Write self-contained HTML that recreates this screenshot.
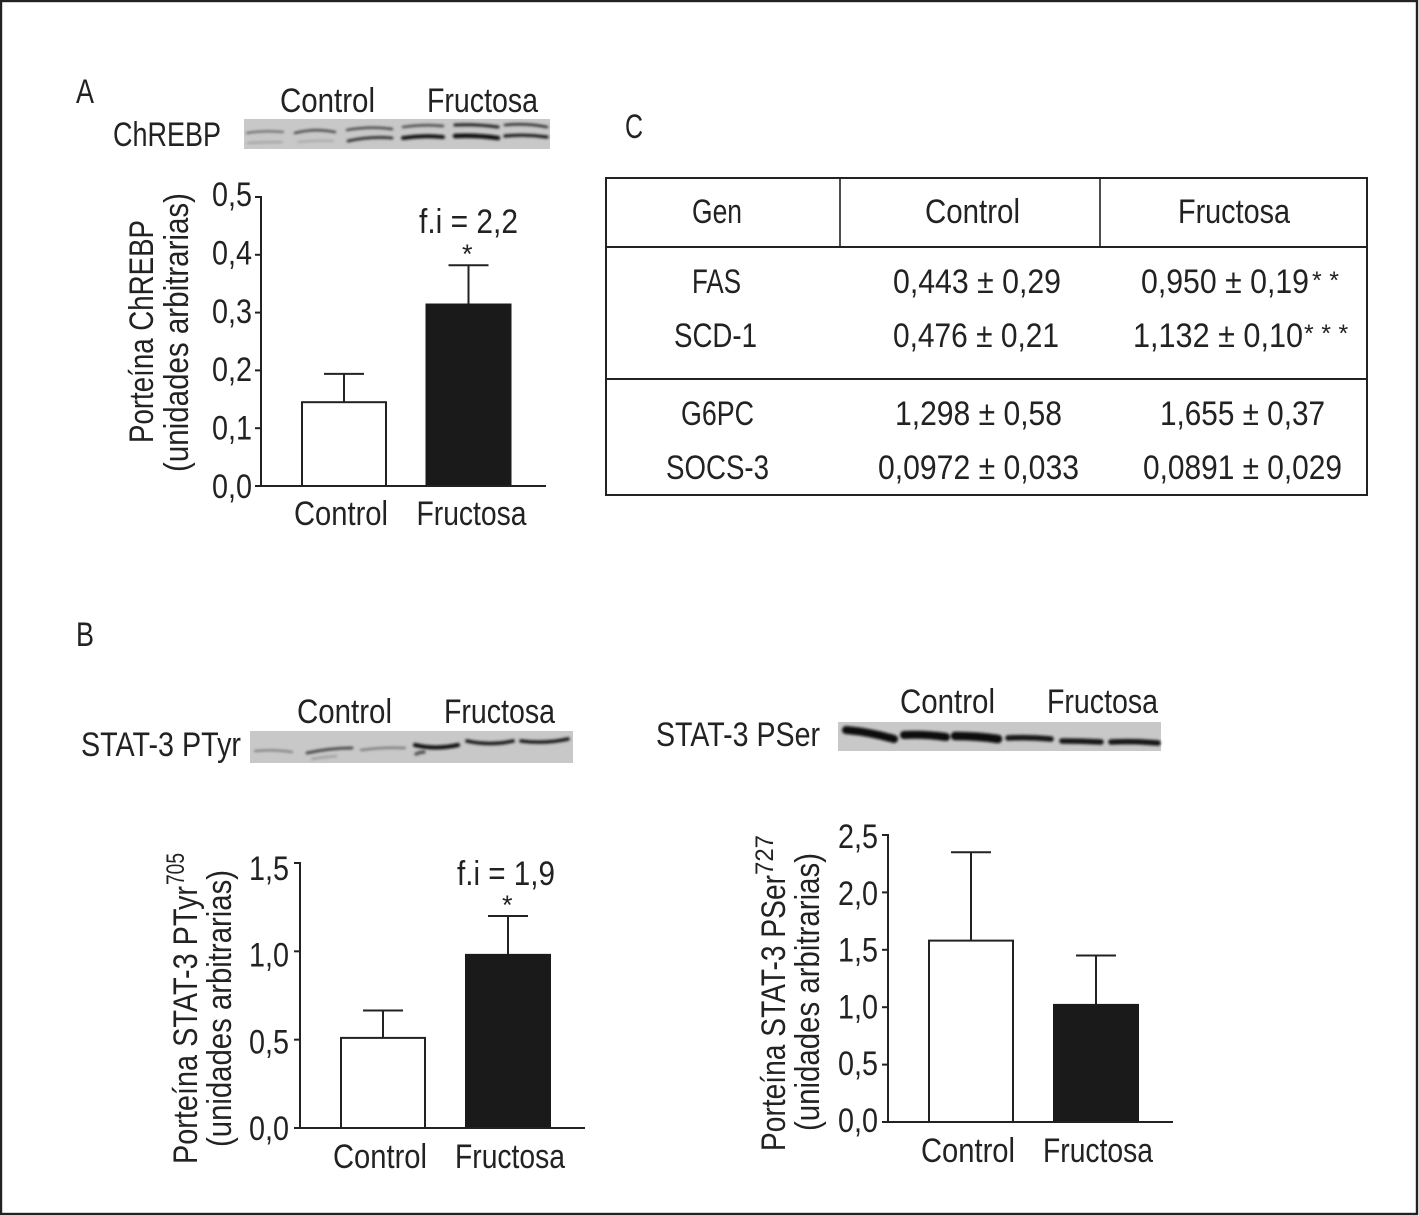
<!DOCTYPE html>
<html lang="es">
<head>
<meta charset="utf-8">
<title>ChREBP and STAT-3 figure</title>
<style>
html,body{margin:0;padding:0;background:#fff;width:1419px;height:1216px;overflow:hidden}
svg{display:block}
text{font-family:"Liberation Sans",sans-serif;font-size:34px;fill:#222}
</style>
</head>
<body>
<svg id="fig" width="1419" height="1216" viewBox="0 0 1419 1216" xmlns="http://www.w3.org/2000/svg">
<defs>
<filter id="blur1" x="-10%" y="-150%" width="120%" height="400%"><feGaussianBlur stdDeviation="1.2"/></filter>
</defs>
<rect x="1" y="1" width="1416" height="1213" fill="#fff" stroke="#222" stroke-width="2.4"/>

<text x="76" y="103" textLength="18" lengthAdjust="spacingAndGlyphs">A</text>
<text x="76" y="646" textLength="18" lengthAdjust="spacingAndGlyphs">B</text>
<text x="625" y="138" textLength="18" lengthAdjust="spacingAndGlyphs">C</text>

<!-- Panel A blot -->
<text x="280" y="112" textLength="95" lengthAdjust="spacingAndGlyphs">Control</text>
<text x="427" y="112" textLength="111" lengthAdjust="spacingAndGlyphs">Fructosa</text>
<text x="113" y="146" textLength="108" lengthAdjust="spacingAndGlyphs">ChREBP</text>
<g>
<rect x="244" y="119" width="306" height="30" fill="#c8c8c8"/>
<g filter="url(#blur1)" fill="none" stroke-linecap="round">
<path d="M247 133Q265 130 283 132" stroke="#666" stroke-width="2"/>
<path d="M248 143Q265 142 282 142" stroke="#a0a0a0" stroke-width="2"/>
<path d="M295 133Q315 128 335 132" stroke="#444" stroke-width="2.4"/>
<path d="M298 142Q315 140 333 141" stroke="#a8a8a8" stroke-width="2"/>
<path d="M347 130Q370 126 392 129" stroke="#444" stroke-width="2.4"/>
<path d="M348 141Q370 136 392 138" stroke="#333" stroke-width="2.8"/>
<path d="M403 127Q423 124 443 126" stroke="#444" stroke-width="2.4"/>
<path d="M403 138Q423 135 443 137" stroke="#111" stroke-width="3.8"/>
<path d="M455 125Q476 124 498 127" stroke="#222" stroke-width="3"/>
<path d="M455 136Q476 135 498 138" stroke="#0a0a0a" stroke-width="4.4"/>
<path d="M505 125Q526 123 547 127" stroke="#333" stroke-width="2.6"/>
<path d="M505 136Q526 134 547 137" stroke="#1a1a1a" stroke-width="3.2"/>
</g>
</g>

<text transform="translate(153,443) rotate(-90)" x="0" y="0" textLength="223" lengthAdjust="spacingAndGlyphs">Porteína ChREBP</text>
<text transform="translate(188,472) rotate(-90)" x="0" y="0" textLength="279" lengthAdjust="spacingAndGlyphs">(unidades arbitrarias)</text>
<text x="419" y="233" textLength="99" lengthAdjust="spacingAndGlyphs">f.i = 2,2</text>
<text x="462" y="263" style="font-size:27px">*</text>

<!-- Panel C table -->
<g>
<rect x="606" y="178" width="761" height="317" fill="none" stroke="#222" stroke-width="2"/>
<line x1="606" x2="1367" y1="247" y2="247" stroke="#222" stroke-width="2"/>
<line x1="606" x2="1367" y1="379" y2="379" stroke="#222" stroke-width="2"/>
<line x1="840" x2="840" y1="178" y2="247" stroke="#222" stroke-width="1.6"/>
<line x1="1100" x2="1100" y1="178" y2="247" stroke="#222" stroke-width="1.6"/>
<text x="692" y="223" textLength="50" lengthAdjust="spacingAndGlyphs">Gen</text>
<text x="925" y="223" textLength="95" lengthAdjust="spacingAndGlyphs">Control</text>
<text x="1178" y="223" textLength="112" lengthAdjust="spacingAndGlyphs">Fructosa</text>

<text x="692" y="293" textLength="49" lengthAdjust="spacingAndGlyphs">FAS</text>
<text x="893" y="293" textLength="168" lengthAdjust="spacingAndGlyphs">0,443 ± 0,29</text>
<text x="1141" y="293" textLength="168" lengthAdjust="spacingAndGlyphs">0,950 ± 0,19</text>
<text x="1312" y="289" style="font-size:25px;letter-spacing:7.5px">**</text>

<text x="674" y="347" textLength="83" lengthAdjust="spacingAndGlyphs">SCD-1</text>
<text x="893" y="347" textLength="166" lengthAdjust="spacingAndGlyphs">0,476 ± 0,21</text>
<text x="1133" y="347" textLength="170" lengthAdjust="spacingAndGlyphs">1,132 ± 0,10</text>
<text x="1304" y="342" style="font-size:25px;letter-spacing:7.5px">***</text>

<text x="681" y="425" textLength="73" lengthAdjust="spacingAndGlyphs">G6PC</text>
<text x="895" y="425" textLength="167" lengthAdjust="spacingAndGlyphs">1,298 ± 0,58</text>
<text x="1160" y="425" textLength="165" lengthAdjust="spacingAndGlyphs">1,655 ± 0,37</text>

<text x="666" y="479" textLength="103" lengthAdjust="spacingAndGlyphs">SOCS-3</text>
<text x="878" y="479" textLength="201" lengthAdjust="spacingAndGlyphs">0,0972 ± 0,033</text>
<text x="1143" y="479" textLength="199" lengthAdjust="spacingAndGlyphs">0,0891 ± 0,029</text>
</g>

<!-- Panel B left blot -->
<text x="297" y="723" textLength="95" lengthAdjust="spacingAndGlyphs">Control</text>
<text x="444" y="723" textLength="111" lengthAdjust="spacingAndGlyphs">Fructosa</text>
<text x="81" y="756" textLength="160" lengthAdjust="spacingAndGlyphs">STAT-3 PTyr</text>
<g>
<rect x="250" y="731" width="323" height="32" fill="#c8c8c8"/>
<g filter="url(#blur1)" fill="none" stroke-linecap="round">
<path d="M255 751Q273 749 292 752" stroke="#7a7a7a" stroke-width="2"/>
<path d="M307 753Q330 748 352 748" stroke="#444" stroke-width="2.8"/>
<path d="M312 759Q325 757 336 756" stroke="#a0a0a0" stroke-width="2.4"/>
<path d="M361 750Q383 747 405 748" stroke="#7a7a7a" stroke-width="2.2"/>
<path d="M415 745Q435 750 458 745" stroke="#111" stroke-width="4"/>
<path d="M416 754Q420 752 424 752" stroke="#555" stroke-width="3.4"/>
<path d="M467 741Q490 746 513 741" stroke="#1c1c1c" stroke-width="3.6"/>
<path d="M521 741Q545 744 568 739" stroke="#1c1c1c" stroke-width="3.6"/>
</g>
</g>

<!-- Panel B right blot -->
<text x="900" y="713" textLength="95" lengthAdjust="spacingAndGlyphs">Control</text>
<text x="1047" y="713" textLength="111" lengthAdjust="spacingAndGlyphs">Fructosa</text>
<text x="656" y="746" textLength="164" lengthAdjust="spacingAndGlyphs">STAT-3 PSer</text>
<g>
<rect x="838" y="722" width="323" height="29" fill="#c8c8c8"/>
<g filter="url(#blur1)" fill="none" stroke-linecap="round">
<path d="M846 730Q870 732 894 739" stroke="#0c0c0c" stroke-width="8"/>
<path d="M904 735Q925 734 946 737" stroke="#101010" stroke-width="8"/>
<path d="M955 736Q978 736 998 739" stroke="#101010" stroke-width="8.5"/>
<path d="M1008 738Q1030 737 1051 739" stroke="#141414" stroke-width="5.5"/>
<path d="M1062 741Q1082 741 1101 742" stroke="#141414" stroke-width="5.5"/>
<path d="M1111 742Q1135 741 1158 743" stroke="#141414" stroke-width="5.5"/>
</g>
</g>

<!-- Panel B titles -->
<text transform="translate(197,1164) rotate(-90)" x="0" y="0" textLength="278" lengthAdjust="spacingAndGlyphs">Porteína STAT-3 PTyr</text>
<text transform="translate(184,885) rotate(-90)" x="0" y="0" textLength="32" lengthAdjust="spacingAndGlyphs" style="font-size:25px">705</text>
<text transform="translate(231,1147) rotate(-90)" x="0" y="0" textLength="277" lengthAdjust="spacingAndGlyphs">(unidades arbitrarias)</text>
<text x="457" y="885" textLength="98" lengthAdjust="spacingAndGlyphs">f.i = 1,9</text>
<text x="502" y="914" style="font-size:27px">*</text>

<text transform="translate(785,1151) rotate(-90)" x="0" y="0" textLength="276" lengthAdjust="spacingAndGlyphs">Porteína STAT-3 PSer</text>
<text transform="translate(773,875) rotate(-90)" x="0" y="0" textLength="40" lengthAdjust="spacingAndGlyphs" style="font-size:25px">727</text>
<text transform="translate(819,1131) rotate(-90)" x="0" y="0" textLength="278" lengthAdjust="spacingAndGlyphs">(unidades arbitrarias)</text>

<g id="charts"></g>
</svg>

<script>
// Panel A: ChREBP
const chrebpCategories = ['Control', 'Fructosa'];
const chrebpMeans = [0.145, 0.314];
const chrebpErrorTops = [0.194, 0.382];
const chrebpTicks = ['0,0', '0,1', '0,2', '0,3', '0,4', '0,5'];
// Panel B left: STAT-3 PTyr
const ptyrCategories = ['Control', 'Fructosa'];
const ptyrMeans = [0.51, 0.98];
const ptyrErrorTops = [0.665, 1.2];
const ptyrTicks = ['0,0', '0,5', '1,0', '1,5'];
// Panel B right: STAT-3 PSer
const pserCategories = ['Control', 'Fructosa'];
const pserMeans = [1.58, 1.02];
const pserErrorTops = [2.35, 1.45];
const pserTicks = ['0,0', '0,5', '1,0', '1,5', '2,0', '2,5'];

const NS = 'http://www.w3.org/2000/svg';
const root = document.getElementById('charts');
const INK = '#222';

function addLine(parent, x1, y1, x2, y2, width) {
  const l = document.createElementNS(NS, 'line');
  l.setAttribute('x1', x1);
  l.setAttribute('y1', y1);
  l.setAttribute('x2', x2);
  l.setAttribute('y2', y2);
  l.setAttribute('stroke', INK);
  l.setAttribute('stroke-width', width);
  parent.appendChild(l);
  return l;
}

function addText(parent, str, x, y, len) {
  const t = document.createElementNS(NS, 'text');
  t.setAttribute('x', x);
  t.setAttribute('y', y);
  t.setAttribute('textLength', len);
  t.setAttribute('lengthAdjust', 'spacingAndGlyphs');
  t.textContent = str;
  parent.appendChild(t);
  return t;
}

function drawChart(name, cats, means, errs, ticks, yMax, frame) {
  const g = document.createElementNS(NS, 'g');
  
  
  root.appendChild(g);

  const y = v => frame.base - (v / yMax) * (frame.base - frame.top);
  const barX = i => frame.firstBar + i * frame.barStep;

  // bars and error bars
  cats.forEach((cat, i) => {
    const cx = barX(i) + frame.barW / 2;
    const err = addLine(g, cx, y(means[i]), cx, y(errs[i]), 2);
    
    
    const cap = addLine(g, cx - 20, y(errs[i]), cx + 20, y(errs[i]), 2);
    
    

    const r = document.createElementNS(NS, 'rect');
    r.setAttribute('x', barX(i));
    r.setAttribute('y', y(means[i]));
    r.setAttribute('width', frame.barW);
    r.setAttribute('height', frame.base - y(means[i]));
    r.setAttribute('fill', i === 0 ? '#fff' : '#1a1a1a');
    r.setAttribute('stroke', i === 0 ? INK : '#1a1a1a');
    r.setAttribute('stroke-width', 2);
    
    
    g.appendChild(r);

    const label = addText(g, cat, barX(i) + frame.catDx[i], frame.catY, frame.catW[i]);
    
    
  });

  // axes
  const yAxis = addLine(g, frame.axisX, frame.top - 1, frame.axisX, frame.base, 2);
  
  
  const xAxis = addLine(g, frame.axisX - 6, frame.base, frame.axisEnd, frame.base, 2);
  
  

  ticks.forEach((lab, i) => {
    const v = yMax * i / (ticks.length - 1);
    const tick = addLine(g, frame.axisX - 6, y(v), frame.axisX, y(v), 2);
    
    
    const dy = frame.tickDyLow + (frame.tickDyHigh - frame.tickDyLow) * (v / yMax);
    const tl = addText(g, lab, frame.tickX, y(v) + dy, 40);
    
    
  });
}

drawChart('chrebp', chrebpCategories, chrebpMeans, chrebpErrorTops, chrebpTicks, 0.5, {
  base: 486, top: 197, axisX: 261, axisEnd: 546, firstBar: 302, barStep: 124.5, barW: 84,
  catDx: [-8, -10], catW: [94, 110], catY: 525, tickX: 212, tickDyLow: 12, tickDyHigh: 9
});
drawChart('ptyr', ptyrCategories, ptyrMeans, ptyrErrorTops, ptyrTicks, 1.5, {
  base: 1128, top: 863, axisX: 300, axisEnd: 585, firstBar: 341, barStep: 125, barW: 84,
  catDx: [-8, -11], catW: [94, 110], catY: 1168, tickX: 249, tickDyLow: 12, tickDyHigh: 17
});
drawChart('pser', pserCategories, pserMeans, pserErrorTops, pserTicks, 2.5, {
  base: 1122, top: 835, axisX: 888, axisEnd: 1173, firstBar: 929, barStep: 125, barW: 84,
  catDx: [-8, -11], catW: [94, 110], catY: 1162, tickX: 838, tickDyLow: 10, tickDyHigh: 13
});
</script>
</body>
</html>
